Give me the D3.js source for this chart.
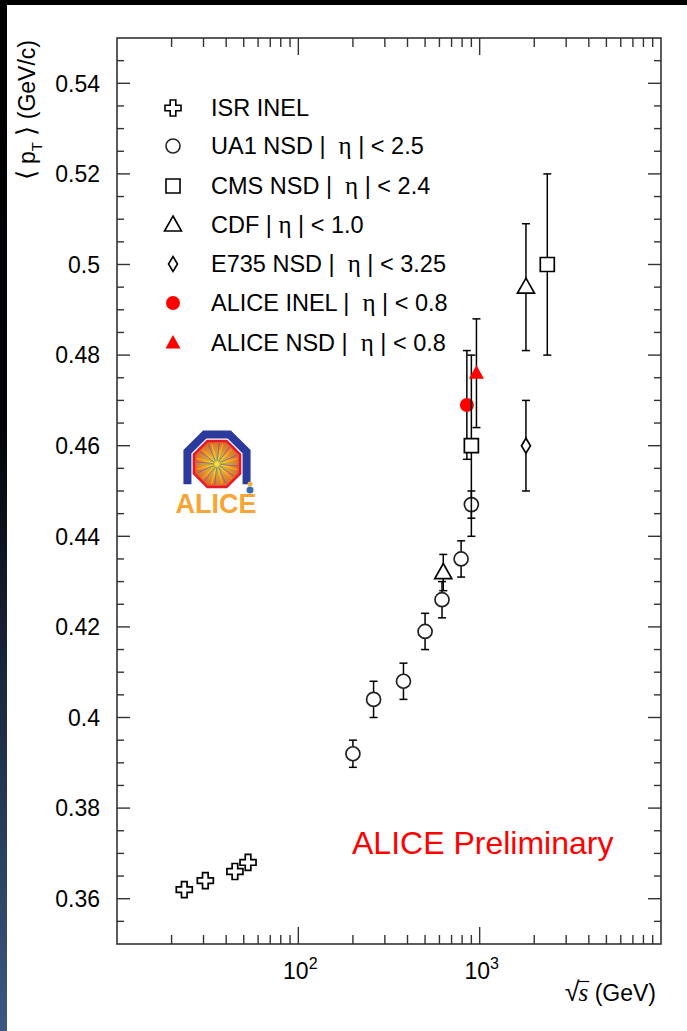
<!DOCTYPE html>
<html>
<head>
<meta charset="utf-8">
<script src="https://cdn.jsdelivr.net/npm/d3@7"></script>
<style>
  html, body { margin: 0; padding: 0; background: #fff; }
  svg { display: block; }
  text { font-family: "Liberation Sans", Arial, Helvetica, sans-serif; fill: #000; }
</style>
</head>
<body>
<svg id="chart" width="687" height="1031"></svg>
<script>
// Mean transverse momentum vs collision energy, per experiment
const isrEnergy   = [23.5, 30.7, 44.7, 52.8];
const isrPt       = [0.362, 0.364, 0.366, 0.368];
const isrErr      = [0, 0, 0, 0];

const ua1Energy   = [200, 260, 380, 500, 620, 790, 900];
const ua1Pt       = [0.392, 0.404, 0.408, 0.419, 0.426, 0.435, 0.447];
const ua1Err      = [0.003, 0.004, 0.004, 0.004, 0.004, 0.004, 0.003];

const cmsEnergy   = [900, 2360];
const cmsPt       = [0.460, 0.500];
const cmsErr      = [0.020, 0.020];

const cdfEnergy   = [630, 1800];
const cdfPt       = [0.432, 0.495];
const cdfErr      = [0.004, 0.014];

const e735Energy  = [1800];
const e735Pt      = [0.460];
const e735Err     = [0.010];

const aliceInelEnergy = [850];
const aliceInelPt     = [0.469];
const aliceInelErr    = [0.012];

const aliceNsdEnergy  = [960];
const aliceNsdPt      = [0.476];
const aliceNsdErr     = [0.012];

const yTickValues = [0.36, 0.38, 0.40, 0.42, 0.44, 0.46, 0.48, 0.50, 0.52, 0.54];
const yTickLabels = ["0.36", "0.38", "0.4", "0.42", "0.44", "0.46", "0.48", "0.5", "0.52", "0.54"];
const xTickValues = [100, 1000];
const xTickExponents = ["2", "3"];

const legendLabels = [
  ["ISR INEL"],
  ["UA1 NSD |  ", "η", " | < 2.5"],
  ["CMS NSD |  ", "η", " | < 2.4"],
  ["CDF | ", "η", " | < 1.0"],
  ["E735 NSD |  ", "η", " | < 3.25"],
  ["ALICE INEL |  ", "η", " | < 0.8"],
  ["ALICE NSD |  ", "η", " | < 0.8"]
];

const svg = d3.select("#chart");
const W = 687, H = 1031;
const frame = { left: 117, right: 661, top: 38, bottom: 944 };

// Slide background: dark top band and a left strip fading into blue
const defs = svg.append("defs");
const sg = defs.append("linearGradient").attr("id", "strip").attr("x1", 0).attr("y1", 0).attr("x2", 0).attr("y2", 1);
sg.append("stop").attr("offset", "0").attr("stop-color", "#000");
sg.append("stop").attr("offset", "0.42").attr("stop-color", "#03050a");
sg.append("stop").attr("offset", "1").attr("stop-color", "#3c5883");
svg.append("rect").attr("x", 0).attr("y", 0).attr("width", W).attr("height", H).attr("fill", "#fff");
svg.append("rect").attr("x", 0).attr("y", 0).attr("width", 7).attr("height", H).attr("fill", "url(#strip)");
svg.append("rect").attr("x", 0).attr("y", 0).attr("width", W).attr("height", 5).attr("fill", "#000");

const x = d3.scaleLog().domain([10, 10000]).range([frame.left, frame.right]);
const y = d3.scaleLinear().domain([0.35, 0.55]).range([frame.bottom, frame.top]);

// Ticks on all four sides, pointing inward
const axisColor = "#333";
const g = svg.append("g");
const xMinor = [];
for (let d = 10; d < 10000; d *= 10) for (let k = 2; k <= 9; k++) xMinor.push(k * d);
xMinor.push(...xTickValues);
const yMinor = d3.range(0, 41).map(i => 0.35 + i * 0.005).filter(v => v > 0.3501 && v < 0.5499);

xMinor.forEach(v => {
  const len = xTickValues.includes(v) ? 17 : 9;
  g.append("line").attr("x1", x(v)).attr("x2", x(v)).attr("y1", frame.bottom).attr("y2", frame.bottom - len)
    .attr("stroke", axisColor).attr("stroke-width", 1.4);
  g.append("line").attr("x1", x(v)).attr("x2", x(v)).attr("y1", frame.top).attr("y2", frame.top + len)
    .attr("stroke", axisColor).attr("stroke-width", 1.4);
});
yMinor.forEach(v => {
  const major = yTickValues.some(t => Math.abs(t - v) < 1e-6);
  const len = major ? 13 : 7;
  g.append("line").attr("x1", frame.left).attr("x2", frame.left + len).attr("y1", y(v)).attr("y2", y(v))
    .attr("stroke", axisColor).attr("stroke-width", 1.4);
  g.append("line").attr("x1", frame.right).attr("x2", frame.right - len).attr("y1", y(v)).attr("y2", y(v))
    .attr("stroke", axisColor).attr("stroke-width", 1.4);
});
g.append("rect").attr("x", frame.left).attr("y", frame.top)
  .attr("width", frame.right - frame.left).attr("height", frame.bottom - frame.top)
  .attr("fill", "none").attr("stroke", axisColor).attr("stroke-width", 1.6);

// Tick labels
yTickValues.forEach((v, i) => {
  svg.append("text").attr("x", 100).attr("y", y(v)).attr("dy", "0.36em")
    .attr("text-anchor", "end").attr("font-size", 23).text(yTickLabels[i]);
});
xTickValues.forEach((v, i) => {
  const t = svg.append("text").attr("x", x(v) + 2).attr("y", 979).attr("text-anchor", "middle").attr("font-size", 23);
  t.append("tspan").text("10");
  t.append("tspan").attr("dy", -10).attr("font-size", 16).text(xTickExponents[i]);
});

// Axis titles
const xt = svg.append("text").attr("x", 656).attr("y", 1001).attr("text-anchor", "end").attr("font-size", 23);
xt.append("tspan").attr("font-size", 27).text("√");
xt.append("tspan").attr("font-family", "'Liberation Serif', 'Times New Roman', serif").attr("font-style", "italic").attr("dx", -1).attr("font-size", 25).text("s");
xt.append("tspan").text(" (GeV)");
// radical bar over the s
{
  const node = xt.node();
  const r = node.getExtentOfChar(0), s = node.getExtentOfChar(1);
  svg.append("line").attr("x1", r.x + r.width - 1.5).attr("x2", s.x + s.width + 1)
    .attr("y1", r.y + 4.5).attr("y2", r.y + 4.5).attr("stroke", "#000").attr("stroke-width", 1.2);
}

const yt = svg.append("text").attr("transform", "translate(35,40) rotate(-90)").attr("text-anchor", "end").attr("font-size", 23);
yt.append("tspan").attr("font-size", 26).text("⟨");
yt.append("tspan").text(" p");
yt.append("tspan").attr("dy", 7).attr("font-size", 15).text("T");
yt.append("tspan").attr("dy", -7).text(" ");
yt.append("tspan").attr("font-size", 26).text("⟩");
yt.append("tspan").text(" (GeV/c)");

// Marker shapes (paths centred on 0,0)
const shapes = {
  cross: () => {
    const a = 8, b = 2.8;
    return `M${-b},${-a}H${b}V${-b}H${a}V${b}H${b}V${a}H${-b}V${b}H${-a}V${-b}H${-b}Z`;
  },
  circle: () => "M7,0A7,7 0 1,1 -7,0A7,7 0 1,1 7,0Z",
  square: () => "M-7,-7H7V7H-7Z",
  triangle: () => "M0,-9L8.5,6H-8.5Z",
  diamond: () => "M0,-7.5L4.5,0L0,7.5L-4.5,0Z",
  ftriangle: () => "M0,-8L7.5,5.5H-7.5Z"
};

function drawSeries(energy, pt, err, shape, color, filled) {
  const grp = svg.append("g");
  energy.forEach((e, i) => {
    const cx = x(e), cy = y(pt[i]);
    if (err[i] > 0) {
      const y1 = y(pt[i] + err[i]), y2 = y(pt[i] - err[i]);
      grp.append("line").attr("x1", cx).attr("x2", cx).attr("y1", y1).attr("y2", y2)
        .attr("stroke", "#000").attr("stroke-width", 1.5);
      [y1, y2].forEach(yy => grp.append("line").attr("x1", cx - 4).attr("x2", cx + 4)
        .attr("y1", yy).attr("y2", yy).attr("stroke", "#000").attr("stroke-width", 1.5));
    }
    grp.append("path").attr("d", shapes[shape]()).attr("transform", `translate(${cx},${cy})`)
      .attr("fill", filled ? color : "#fff").attr("stroke", filled ? "none" : color)
      .attr("stroke-width", 1.7);
  });
}

drawSeries(isrEnergy, isrPt, isrErr, "cross", "#000", false);
drawSeries(ua1Energy, ua1Pt, ua1Err, "circle", "#222", false);
drawSeries(cdfEnergy, cdfPt, cdfErr, "triangle", "#000", false);
drawSeries(e735Energy, e735Pt, e735Err, "diamond", "#000", false);
drawSeries(aliceInelEnergy, aliceInelPt, aliceInelErr, "circle", "#ff0000", true);
drawSeries(cmsEnergy, cmsPt, cmsErr, "square", "#000", false);
drawSeries(aliceNsdEnergy, aliceNsdPt, aliceNsdErr, "ftriangle", "#ff0000", true);

// Legend
const legendShapes = [
  ["cross", "#000", false], ["circle", "#222", false], ["square", "#000", false],
  ["triangle", "#000", false], ["diamond", "#000", false], ["circle", "#ff0000", true],
  ["ftriangle", "#ff0000", true]
];
const legendY = [108, 146, 186, 225, 264, 303, 343];
legendLabels.forEach((parts, i) => {
  const [shape, color, filled] = legendShapes[i];
  svg.append("path").attr("d", shapes[shape]()).attr("transform", `translate(173,${legendY[i]})`)
    .attr("fill", filled ? color : "#fff").attr("stroke", filled ? "none" : color).attr("stroke-width", 1.6);
  const t = svg.append("text").attr("x", 211).attr("y", legendY[i] + 8).attr("font-size", 23.5)
    .attr("xml:space", "preserve");
  parts.forEach(p => {
    const ts = t.append("tspan").text(p);
    if (p === "η") ts.attr("font-family", "'Liberation Serif', 'Times New Roman', serif").attr("font-size", 25);
  });
});

// Preliminary label
svg.append("text").attr("x", 352).attr("y", 854).attr("font-size", 32).style("fill", "#ff0000")
  .text("ALICE Preliminary");

// ALICE logo
const logo = svg.append("g").attr("transform", "translate(217,464)");
const rg = defs.append("radialGradient").attr("id", "burst");
rg.append("stop").attr("offset", "0").attr("stop-color", "#ffe040");
rg.append("stop").attr("offset", "0.5").attr("stop-color", "#f7a030");
rg.append("stop").attr("offset", "1").attr("stop-color", "#e0602a");
const oct = (r) => d3.range(8).map(k => {
  const a = Math.PI / 8 + k * Math.PI / 4;
  return [r * Math.cos(a), r * Math.sin(a)];
});
// outer magnet yoke, open at the bottom
const o = oct(32);
logo.append("path")
  .attr("d", `M${o[0][0]},${o[0][1] + 8}L${o[0][0]},${o[7][1]}L${o[6][0]},${o[6][1]}L${o[5][0]},${o[5][1]}L${o[4][0]},${o[4][1]}L${o[3][0]},${o[3][1] + 8}`)
  .attr("fill", "none").attr("stroke", "#2b3a9c").attr("stroke-width", 8).attr("stroke-linejoin", "miter");
logo.append("polygon").attr("points", oct(25).map(p => p.join(",")).join(" "))
  .attr("fill", "url(#burst)").attr("stroke", "#e8182a").attr("stroke-width", 2.5);
d3.range(36).forEach(k => {
  const a = k * Math.PI / 18 + 0.1;
  logo.append("line").attr("x1", 3 * Math.cos(a)).attr("y1", 3 * Math.sin(a))
    .attr("x2", 21 * Math.cos(a)).attr("y2", 21 * Math.sin(a))
    .attr("stroke", k % 3 === 0 ? "#3a5ad0" : (k % 3 === 1 ? "#ffd000" : "#7ab04a")).attr("stroke-width", 0.8).attr("opacity", 0.8);
});
logo.append("circle").attr("cx", 33).attr("cy", 26).attr("r", 3.5).attr("fill", "#3a6ab0");
logo.append("circle").attr("cx", 33).attr("cy", 20).attr("r", 2.5).attr("fill", "#f0b040");
svg.append("text").attr("x", 216).attr("y", 513).attr("text-anchor", "middle").attr("font-size", 27)
  .attr("font-weight", "bold").style("fill", "#f7a535").text("ALICE");
</script>
</body>
</html>
